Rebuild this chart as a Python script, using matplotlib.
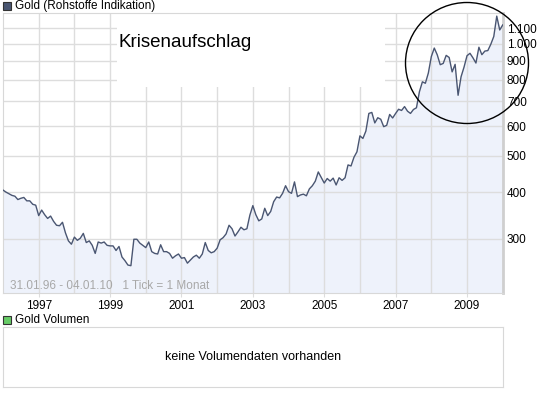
import numpy as np
import pandas as pd
import matplotlib
matplotlib.use("Agg")
import matplotlib.pyplot as plt
from matplotlib.patches import Rectangle, Ellipse

plt.rcParams['font.family'] = ['Liberation Sans', 'DejaVu Sans']

# Goldpreis (USD/oz), Monatswerte 31.01.96 - 04.01.10
kurse_1996 = [405, 400, 396, 392, 390, 382, 385, 387, 379, 379, 371, 369]
kurse_1997 = [346, 358, 348, 340, 345, 334, 326, 325, 332, 311, 296, 290]
kurse_1998 = [303, 297, 301, 310, 293, 296, 288, 274, 294, 292, 294, 288]
kurse_1999 = [287, 287, 279, 286, 268, 262, 255, 254, 299, 299, 292, 288]
kurse_2000 = [284, 294, 277, 274, 273, 289, 277, 277, 274, 266, 270, 273]
kurse_2001 = [266, 267, 258, 263, 268, 271, 266, 273, 293, 279, 275, 277]
kurse_2002 = [283, 298, 302, 309, 326, 319, 305, 313, 322, 317, 319, 347]
kurse_2003 = [368, 348, 335, 339, 362, 346, 355, 377, 388, 386, 397, 416]
kurse_2004 = [401, 397, 426, 389, 393, 395, 391, 408, 416, 428, 453, 438]
kurse_2005 = [423, 435, 428, 436, 418, 437, 430, 437, 473, 470, 496, 513]
kurse_2006 = [566, 557, 583, 650, 654, 613, 633, 627, 599, 604, 646, 632]
kurse_2007 = [650, 667, 662, 678, 659, 650, 666, 673, 743, 790, 783, 834]
kurse_2008 = [923, 973, 933, 878, 885, 930, 918, 840, 880, 727, 815, 865]
kurse_2009 = [928, 942, 916, 887, 978, 934, 955, 958, 996, 1045, 1185, 1088]
kurse_2010 = [1122]

kurse = (kurse_1996 + kurse_1997 + kurse_1998 + kurse_1999 + kurse_2000 +
         kurse_2001 + kurse_2002 + kurse_2003 + kurse_2004 + kurse_2005 +
         kurse_2006 + kurse_2007 + kurse_2008 + kurse_2009 + kurse_2010)
daten = list(pd.date_range('1996-01-31', periods=168, freq='ME')) + [pd.Timestamp('2010-01-04')]

y_ticks = [300, 400, 500, 600, 700, 800, 900, 1000, 1100]
y_labels = ['300', '400', '500', '600', '700', '800', '900', '1.000', '1.100']

LINIE = '#4a5672'
FLAECHE = '#eef2fb'
GITTER = '#dddddd'
W, H = 545, 395

fig = plt.figure(figsize=(W / 100, H / 100), dpi=100)
fig.patch.set_facecolor('white')


def fx(px):
    return px / W


def fy(py):
    return 1 - py / H


ax = fig.add_axes([fx(3), fy(293), fx(499.7), (293 - 13) / H])
x = np.arange(len(kurse))
ax.fill_between(x, kurse, 100, color=FLAECHE, lw=0, zorder=0.3)
ax.plot(x, kurse, color=LINIE, lw=1.0, zorder=3)
ax.set_yscale('log')
ax.set_ylim(214.6, 1208)
ax.set_xlim(0, len(kurse) - 1)

ax.yaxis.tick_right()
ax.set_yticks(y_ticks)
ax.set_yticklabels(y_labels)
ax.yaxis.set_minor_locator(matplotlib.ticker.NullLocator())
ax.tick_params(axis='y', length=0, pad=3, labelsize=8.5)

jan = [i for i, d in enumerate(daten) if d.month == 1 and d.year > 1996]
ungerade = [i for i in jan if daten[i].year % 2 == 1]
gerade = [i for i in jan if daten[i].year % 2 == 0]
ax.set_xticks(ungerade)
ax.set_xticklabels([str(daten[i].year) for i in ungerade])
ax.set_xticks(gerade, minor=True)
ax.tick_params(axis='x', which='major', length=3, color=GITTER, pad=2, labelsize=8.5)
ax.tick_params(axis='x', which='minor', length=0)

ax.set_axisbelow(True)
ax.grid(True, which='both', color=GITTER, lw=1)
for s in ['top', 'left', 'bottom']:
    ax.spines[s].set_color('#d8d8d8')
ax.spines['right'].set_color('#cfcfcf')
ax.spines['right'].set_linewidth(2)

# weisser Kasten hinter der Beschriftung
ax.add_patch(Rectangle((fx(117), fy(87)), fx(385 - 117), (87 - 14) / H,
                       transform=fig.transFigure, facecolor='white',
                       edgecolor='none', zorder=0.8))
fig.text(fx(118), fy(47), 'Krisenaufschlag', fontsize=13.5, va='baseline',
         ha='left', color='black')

# Kreis um den Anstieg
fig.patches.append(Ellipse((fx(467), fy(63)), fx(123), 121 / H,
                           transform=fig.transFigure, fill=False,
                           edgecolor='black', lw=1.0, zorder=5))

ax.text(fx(10), fy(286), '31.01.96 - 04.01.10   1 Tick = 1 Monat',
        transform=fig.transFigure, fontsize=8.5, color='#a8a8a8',
        va='center', ha='left', zorder=0.6)

# Legende oben
fig.patches.append(Rectangle((fx(3), fy(10)), fx(8), 8 / H, transform=fig.transFigure,
                             facecolor='#4a5672', edgecolor='#333333', lw=0.8))
fig.text(fx(15), fy(6), 'Gold (Rohstoffe Indikation)', fontsize=8.5, va='center')

# Volumen-Panel
fig.patches.append(Rectangle((fx(3), fy(324)), fx(8), 8 / H, transform=fig.transFigure,
                             facecolor='#66cc66', edgecolor='#333333', lw=0.8))
fig.text(fx(15), fy(320), 'Gold Volumen', fontsize=8.5, va='center')

ax2 = fig.add_axes([fx(3), fy(387), fx(500), (387 - 327) / H])
ax2.set_xticks([])
ax2.set_yticks([])
for s in ax2.spines.values():
    s.set_color('#d8d8d8')
ax2.text(0.5, 0.5, 'keine Volumendaten vorhanden', transform=ax2.transAxes,
         ha='center', va='center', fontsize=9)

fig.savefig('out.png', dpi=100)
